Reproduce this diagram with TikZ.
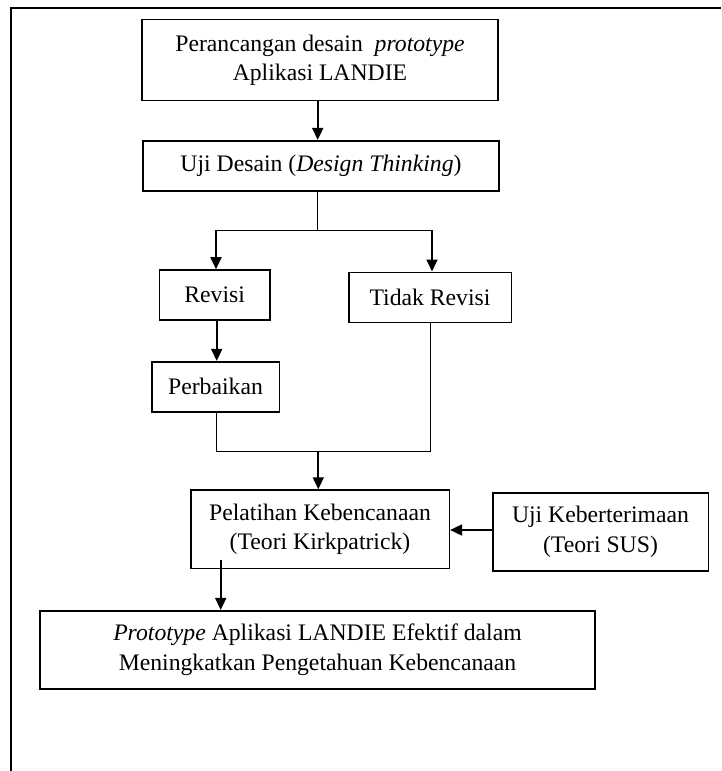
\documentclass[tikz,border=0pt]{standalone}
\usepackage{fontspec}
\setmainfont{Liberation Serif}
\usetikzlibrary{arrows.meta}
\begin{document}
\begin{tikzpicture}[x=1pt,y=-1pt,
  box/.style={draw,line width=1.6pt,inner sep=0pt,align=center,
    font=\fontsize{23.7}{29.5}\selectfont},
  arr/.style={line width=1.8pt,-{Triangle[length=12pt,width=11pt]}},
  joinline/.style={line width=1pt}]
\useasboundingbox (0,0) rectangle (721,771);
% frame (only top and left edges visible)
\coordinate (fTR) at (721,8);
\coordinate (fTL) at (11,8);
\coordinate (fBL) at (11,771);
\draw[line width=1.6pt] (fTR) -- (fTL) -- (fBL);
% boxes
\node[box,minimum width=356pt,minimum height=81pt] (b1) at (320,60.1)
  {Perancangan desain \ \textit{prototype}\\Aplikasi LANDIE};
\node[box,minimum width=356pt,minimum height=50.3pt] (b2) at (321,165.9)
  {Uji Desain (\textit{Design Thinking})};
\node[box,minimum width=110.7pt,minimum height=50pt] (rev) at (214.7,295)
  {Revisi};
\node[box,minimum width=162.6pt,minimum height=50pt] (tr) at (430,297.3)
  {Tidak Revisi};
\node[box,minimum width=127.6pt,minimum height=50pt] (per) at (215.5,386.7)
  {Perbaikan};
\node[box,minimum width=258.6pt,minimum height=78.3pt] (pel) at (320,529.2)
  {Pelatihan Kebencanaan\\(Teori Kirkpatrick)};
\node[box,minimum width=215.6pt,minimum height=78pt] (uji) at (600.5,531.7)
  {Uji Keberterimaan\\(Teori SUS)};
\node[box,minimum width=555pt,minimum height=78.3pt] (pro) at (317.5,649.9)
  {\textit{Prototype} Aplikasi LANDIE Efektif dalam\\Meningkatkan Pengetahuan Kebencanaan};
% connectors
\draw[arr] ([xshift=-2.3pt]b1.south) -- ([xshift=-2.3pt]b1.south |- b2.north);
\coordinate (sp) at (317.7,230);
\coordinate (spL) at (216,230);
\coordinate (spR) at (432,230);
\draw[joinline] ([xshift=-3.3pt]b2.south) -- (sp);
\draw[joinline] (spL) -- (spR);
\draw[arr] (spL) -- (spL |- rev.north);
\draw[arr] (spR) -- (spR |- tr.north);
\draw[arr] ([xshift=2pt]rev.south) -- ([xshift=2pt]rev.south |- per.north);
\coordinate (mL) at (216.7,451);
\coordinate (mR) at (430,451);
\coordinate (mM) at (318.3,451);
\draw[joinline] (per.south -| mL) -- (mL) -- (mR) -- (tr.south -| mR);
\draw[arr] (mM) -- (mM |- pel.north);
\draw[arr] (uji.west |- 0,530) -- (pel.east |- 0,530);
\coordinate (pd) at (220.7,560);
\draw[arr] (pd) -- (pd |- pro.north);
\end{tikzpicture}
\end{document}
